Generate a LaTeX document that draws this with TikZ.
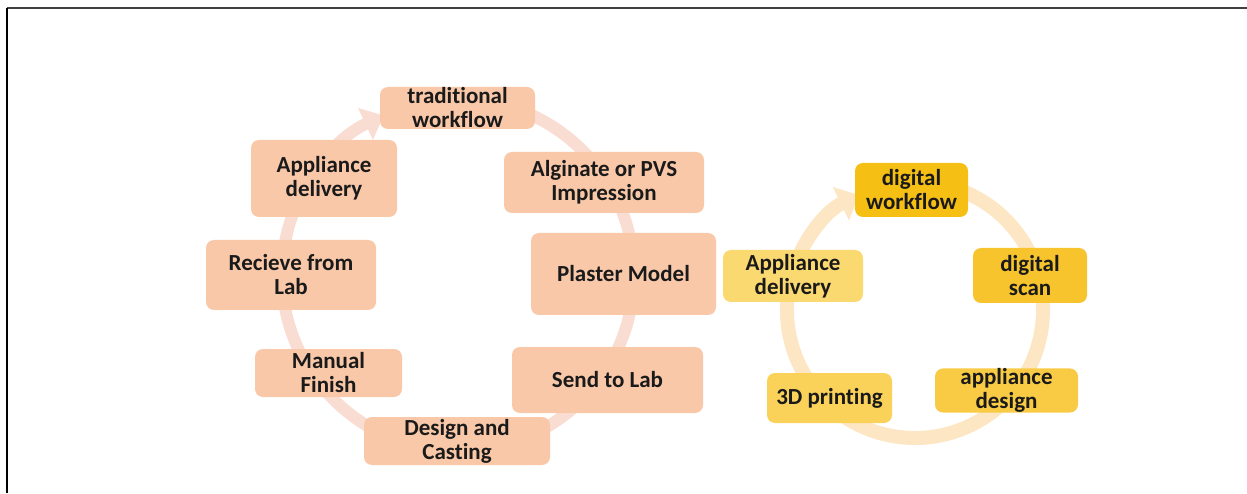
\documentclass[tikz,border=0pt]{standalone}
\usepackage{fontspec}
\setmainfont{Carlito}[Ligatures=NoCommon]
\usetikzlibrary{arrows.meta}
\definecolor{peach}{HTML}{F8C8A8}
\definecolor{ringL}{HTML}{FADDD2}
\definecolor{ringR}{HTML}{FDE6C4}
\definecolor{dwC}{HTML}{F5BF14}
\definecolor{dsC}{HTML}{F7C42E}
\definecolor{adC}{HTML}{F9CB45}
\definecolor{tdC}{HTML}{FAD25A}
\definecolor{apC}{HTML}{FBD971}
\definecolor{txt}{HTML}{1A1A1A}
\tikzset{
  box/.style={rounded corners=4pt, inner sep=0pt, align=center, text=txt,
    font=\fontsize{11.5}{12}\selectfont\bfseries},
  pbox/.style={box, fill=peach},
}
\begin{document}
\begin{tikzpicture}[x=0.5pt,y=0.5pt]
\useasboundingbox (0,0) rectangle (1247,493);
% frame
\draw[line width=1pt, black!75] (7,485) -- (1247,485);
\draw[line width=1pt, black] (7,485) -- (7,0);
% rings
\coordinate (cL) at (458,218);
\coordinate (cR) at (915,183);
\draw[ringL, line width=6pt, -{Triangle[width=17pt,length=10pt]}]
  ([shift={(80:176)}]cL) arc[start angle=80, end angle=-245, radius=176];
\draw[ringR, line width=7pt, -{Triangle[width=18pt,length=10pt]}]
  ([shift={(75:128)}]cR) arc[start angle=75, end angle=-244, radius=128];
% left boxes
\node[pbox, minimum width=77.5pt, minimum height=21pt] (trad) at (457.5,385) {traditional\\workflow};
\node[pbox, minimum width=100pt, minimum height=30.5pt] (alg) at (604,310.5) {Alginate or PVS\\Impression};
\node[pbox, minimum width=92.5pt, minimum height=41pt] (plaster) at (623.5,219) {Plaster Model};
\node[pbox, minimum width=95.5pt, minimum height=33pt] (send) at (607.5,113) {Send to Lab};
\node[pbox, minimum width=93pt, minimum height=24pt] (design) at (457,52) {Design and\\Casting};
\node[pbox, minimum width=73.5pt, minimum height=24pt] (manual) at (328.5,120) {Manual\\Finish};
\node[pbox, minimum width=85pt, minimum height=35pt] (recv) at (291,218) {Recieve from\\Lab};
\node[pbox, minimum width=73pt, minimum height=38.5pt] (applL) at (324,314.5) {Appliance\\delivery};
% right boxes
\node[box, fill=dwC, minimum width=56.5pt, minimum height=27pt] (dw) at (911.5,303) {digital\\workflow};
\node[box, fill=dsC, minimum width=57pt, minimum height=27.5pt] (ds) at (1030,217.5) {digital\\scan};
\node[box, fill=adC, minimum width=71.5pt, minimum height=21.5pt] (ad) at (1006.5,102.5) {appliance\\design};
\node[box, fill=tdC, minimum width=62.5pt, minimum height=25pt] (td) at (829.5,95) {3D printing};
\node[box, fill=apC, minimum width=70pt, minimum height=26pt] (applR) at (793,217) {Appliance\\delivery};
\end{tikzpicture}
\end{document}
